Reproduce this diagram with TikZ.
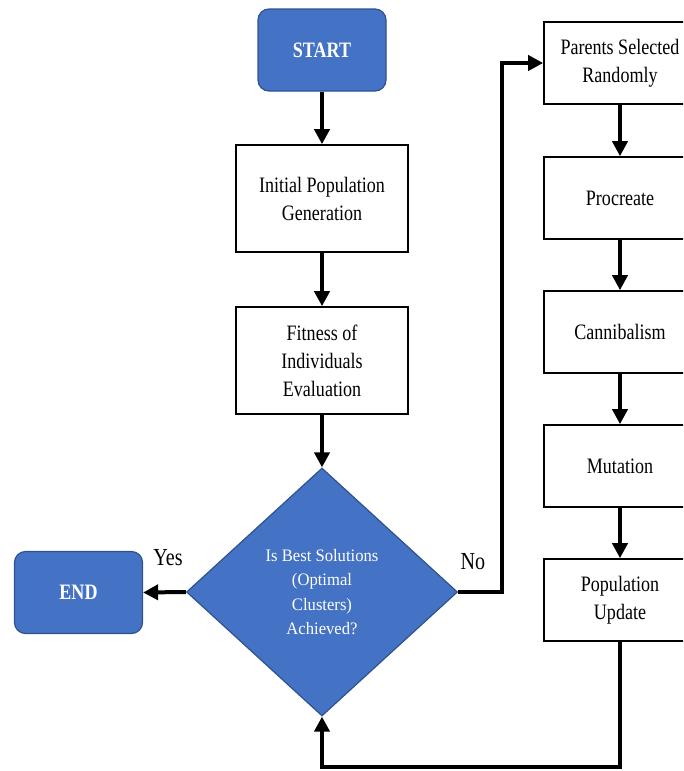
\documentclass[tikz,border=0pt]{standalone}
\usepackage{fontspec}
\setmainfont{Liberation Serif}
\newfontfamily\boxf{Liberation Serif}[FakeStretch=0.82]
\newfontfamily\diaf{Liberation Serif}[FakeStretch=0.95]
\usetikzlibrary{arrows.meta,shapes.geometric}
\definecolor{blueA}{HTML}{4472C4}
\definecolor{blueB}{HTML}{2F528F}
\tikzset{
  procbox/.style={draw=black, line width=1.6pt, fill=white, minimum width=172pt, minimum height=107pt, inner sep=0pt, align=center, font=\boxf\fontsize{22}{28}\selectfont},
  rightbox/.style={procbox, minimum width=152pt, minimum height=82pt},
  termbox/.style={draw=blueB, line width=1.2pt, fill=blueA, rounded corners=11pt, minimum width=128pt, minimum height=82pt, inner sep=0pt, text=white, font=\boxf\bfseries\fontsize{22}{24}\selectfont},
  decbox/.style={diamond, draw=blueB, line width=1.2pt, fill=blueA, minimum width=271pt, minimum height=248pt, inner sep=0pt, aspect=1.09, text=white, align=center, font=\diaf\fontsize{17.5}{24.5}\selectfont},
  arr/.style={line width=4pt, -{Triangle[length=15pt,width=15pt]}},
  lbl/.style={font=\boxf\fontsize{24.5}{26}\selectfont, inner sep=0pt}
}
\begin{document}
\begin{tikzpicture}[x=1pt,y=-1pt]
\useasboundingbox (0,0) rectangle (683,771);
\clip (0,0) rectangle (683,771);
\node[termbox] (start) at (322,50) {START};
\node[procbox] (init) at (322,198.5) {Initial Population\\Generation};
\node[procbox] (fit) at (322,360.5) {Fitness of\\Individuals\\Evaluation};
\node[decbox] (dec) at (322,592) {Is Best Solutions\\(Optimal\\Clusters)\\Achieved?};
\node[termbox] (end) at (78.5,592.5) {END};
\node[rightbox] (par) at (620,63) {Parents Selected\\Randomly};
\node[rightbox] (proc) at (620,198) {Procreate};
\node[rightbox] (can) at (620,332) {Cannibalism};
\node[rightbox] (mut) at (620,466) {Mutation};
\node[rightbox] (upd) at (620,600) {Population\\Update};
\node[lbl] (yes) at (168,558) {Yes};
\node[lbl] (no) at (473,562) {No};
\coordinate (nobend) at (502,592);
\coordinate (loopc) at (620,767);
\draw[arr] (start) -- (init);
\draw[arr] (init) -- (fit);
\draw[arr] (fit.south) -- (dec.north);
\draw[arr] (dec.west) -- (end.east);
\draw[arr] (dec.east) -- (nobend) |- (par.west);
\draw[arr] (par) -- (proc);
\draw[arr] (proc) -- (can);
\draw[arr] (can) -- (mut);
\draw[arr] (mut) -- (upd);
\draw[arr] (upd.south) -- (loopc) -| (dec.south);
\end{tikzpicture}
\end{document}
